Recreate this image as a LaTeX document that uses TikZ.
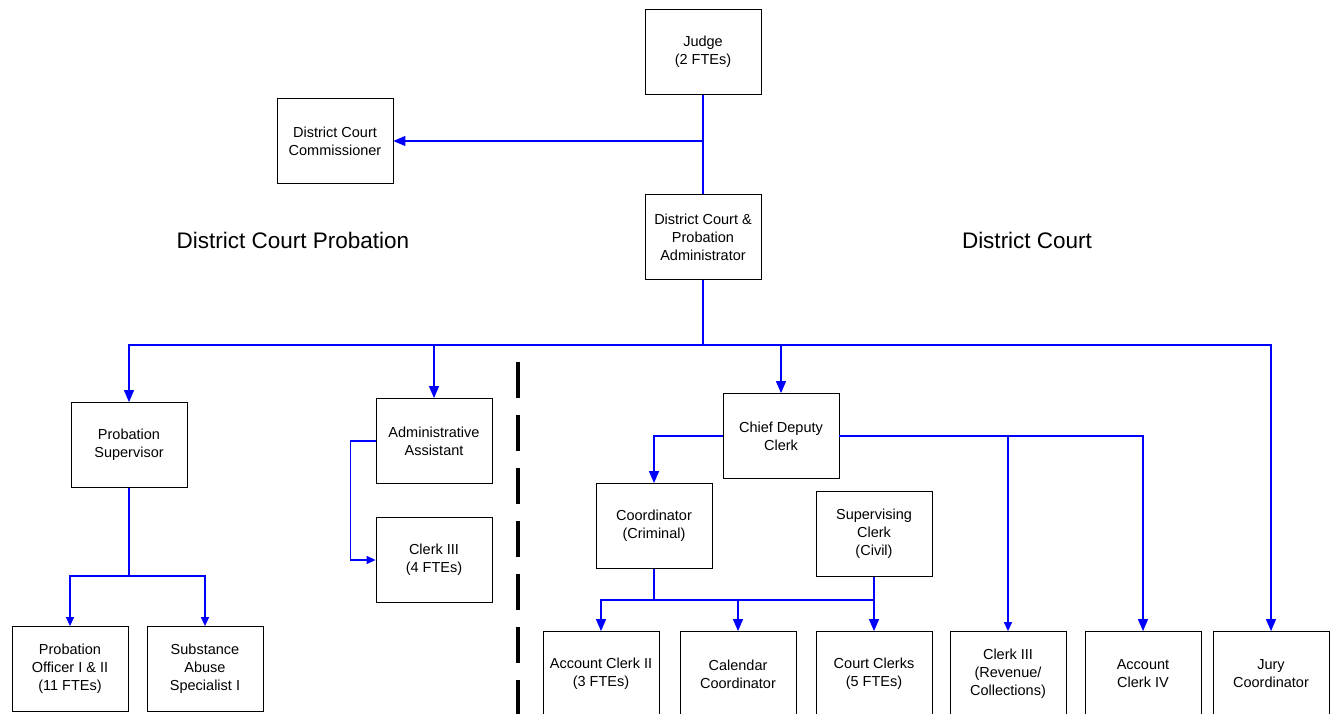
\documentclass[tikz,border=0pt]{standalone}
\usepackage{fontspec}
\setmainfont{Liberation Sans}
\usetikzlibrary{arrows.meta}

\begin{document}
\begin{tikzpicture}[x=1pt, y=-1pt,
  post/.style={draw, line width=.8pt, minimum width=116pt, minimum height=85pt, inner sep=0pt, align=center, font=\fontsize{14.5}{18}\selectfont},
  head/.style={font=\fontsize{22.5}{27}\selectfont},
  wire/.style={draw=blue, line width=1.3pt},
  feed/.style={wire, -{Triangle[length=12pt, width=10pt]}},
  smallfeed/.style={wire, -{Triangle[length=9pt, width=8pt]}}]
  \useasboundingbox (0,0) rectangle (1333,714);

  \node (judge) [post] at (703,52) {Judge\\(2 FTEs)};
  \node (comm) [post] at (335,141) {District Court\\Commissioner};
  \node (admin) [post] at (703,237) {District Court \&\\Probation\\Administrator};

  \node (probhead) [head] at (293,240) {District Court Probation};
  \node (courthead) [head] at (1027,240) {District Court};

  \node (probsup) [post] at (129,445) {Probation\\Supervisor};
  \node (officer) [post] at (70,669) {Probation\\Officer I \& II\\(11 FTEs)};
  \node (abuse) [post] at (205,669) {Substance\\Abuse\\Specialist I};
  \node (asst) [post] at (434,441) {Administrative\\Assistant};
  \node (clerkfour) [post] at (434,560) {Clerk III\\(4 FTEs)};

  \node (deputy) [post] at (781,436) {Chief Deputy\\Clerk};
  \node (crim) [post] at (654,526) {Coordinator\\(Criminal)};
  \node (civil) [post] at (874,534) {Supervising\\Clerk\\(Civil)};
  \node (accttwo) [post] at (601,674) {Account Clerk II\\(3 FTEs)};
  \node (calendar) [post] at (738,674) {Calendar\\Coordinator};
  \node (courtclerks) [post] at (874,674) {Court Clerks\\(5 FTEs)};
  \node (revenue) [post] at (1008,674) {Clerk III\\(Revenue/\\Collections)};
  \node (acctfour) [post] at (1143,674) {Account\\Clerk IV};
  \node (jury) [post] at (1271,674) {Jury\\Coordinator};

  % divider between probation and court
  \coordinate (divtop) at (518,362);
  \coordinate (divbot) at (518,714);
  \draw [line width=4pt, dash pattern=on 36pt off 17pt] (divtop) -- (divbot);

  \draw [wire] (judge) -- (admin);
  \draw [feed] (judge.south |- comm) -- (comm);
  \draw [wire] (admin.south) -- ++(0,65) coordinate (bus);
  \draw [feed] (bus) -| (probsup);
  \draw [feed] (bus) -| (asst);
  \draw [feed] (bus) -| (deputy);
  \draw [feed] (bus) -| (jury);

  \draw [smallfeed] (asst.west) -- ++(-25,0) |- (clerkfour.west);
  \draw [wire] (probsup.south) -- ++(0,88) coordinate (pbus);
  \draw [smallfeed] (pbus) -| (officer);
  \draw [smallfeed] (pbus) -| (abuse);

  \draw [feed] (deputy.west) -| (crim);
  \draw [smallfeed] (deputy.east) -| (revenue);
  \draw [feed] (deputy.east) -| (acctfour);
  \draw [wire] (crim.south) -- ++(0,31) coordinate (cbus);
  \draw [feed] (cbus) -| (accttwo);
  \draw [wire] (cbus) -- (cbus -| civil);
  \draw [feed] (cbus -| calendar) -- (calendar);
  \draw [feed] (civil) -- (courtclerks);
\end{tikzpicture}
\end{document}
